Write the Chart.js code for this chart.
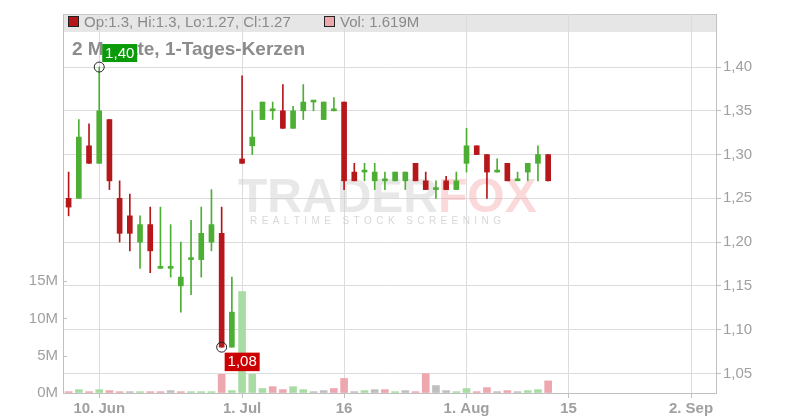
<!DOCTYPE html>
<html>
<head>
<meta charset="utf-8">
<script src="https://cdn.jsdelivr.net/npm/chart.js@4.4.1/dist/chart.umd.min.js"></script>
<style>
html,body{margin:0;padding:0;background:#fff}
canvas{display:block}
</style>
</head>
<body>
<canvas id="chart" width="800" height="420"></canvas>
<script>
// one entry per trading day, 5 Jun .. 13 Aug (x = trading day index)
var opens  = [1.25,1.25,1.31,1.29,1.34,1.25,1.23,1.20,1.22,1.17,1.17,1.15,1.18,1.18,1.20,1.21,1.08,1.295,1.31,1.34,1.35,1.35,1.33,1.35,
              1.36,1.34,1.35,1.36,1.28,1.28,1.27,1.27,1.27,1.27,1.29,1.27,1.26,1.27,1.26,1.29,1.31,1.30,1.28,1.29,1.27,1.28,1.29,1.30];
var highs  = [1.28,1.34,1.335,1.40,1.34,1.27,1.255,1.23,1.24,1.24,1.22,1.20,1.225,1.24,1.26,1.24,1.16,1.39,1.35,1.36,1.36,1.38,1.355,1.38,
              1.36,1.36,1.365,1.36,1.29,1.29,1.29,1.28,1.28,1.28,1.29,1.28,1.27,1.275,1.28,1.33,1.31,1.30,1.295,1.29,1.28,1.29,1.31,1.30];
var lows   = [1.23,1.25,1.29,1.29,1.26,1.20,1.19,1.17,1.165,1.17,1.16,1.12,1.14,1.16,1.19,1.08,1.08,1.29,1.30,1.34,1.34,1.33,1.33,1.34,
              1.35,1.34,1.35,1.26,1.27,1.27,1.26,1.26,1.27,1.26,1.27,1.26,1.25,1.26,1.26,1.28,1.30,1.25,1.28,1.27,1.27,1.27,1.27,1.27];
var closes = [1.24,1.32,1.29,1.35,1.27,1.21,1.21,1.22,1.19,1.17,1.17,1.16,1.18,1.21,1.22,1.08,1.12,1.29,1.32,1.36,1.35,1.33,1.35,1.36,
              1.36,1.36,1.35,1.27,1.27,1.28,1.28,1.27,1.28,1.28,1.27,1.26,1.26,1.26,1.27,1.31,1.30,1.28,1.28,1.27,1.27,1.29,1.30,1.27];
// volume in millions
var volumes = [0.18,0.45,0.18,0.45,0.32,0.18,0.18,0.18,0.18,0.18,0.32,0.18,0.18,0.18,0.18,2.5,0.32,13.6,2.5,0.6,0.85,0.45,0.85,0.45,
               0.18,0.32,0.6,1.95,0.18,0.32,0.45,0.45,0.18,0.32,0.18,2.6,1.0,0.32,0.18,0.6,0.18,0.72,0.18,0.32,0.18,0.32,0.45,1.619];

var xTickIdx    = [3,17,27,39,49,61];
var xTickLabels = ['10. Jun','1. Jul','16','1. Aug','15','2. Sep'];
var priceTicks  = [1.05,1.10,1.15,1.20,1.25,1.30,1.35,1.40];
var volTicks    = [0,5,10,15];

var FONT = "'Liberation Sans', Arial, sans-serif";
var GREEN = '#4caf34', RED = '#b5171b';
var VGREEN = '#a9dca5', VRED = '#eda7ae', VGREY = '#bfbfbf';

var bodyData=[], wickData=[], volData=[], candleCol=[], volCol=[];
for (var i=0;i<opens.length;i++){
  bodyData.push({x:i, y:[opens[i], closes[i]]});
  wickData.push({x:i, y:[lows[i], highs[i]]});
  volData.push({x:i, y:volumes[i]});
  candleCol.push(closes[i] >= opens[i] ? GREEN : RED);
  var prev = i>0 ? closes[i-1] : opens[i];
  volCol.push(closes[i] > prev ? VGREEN : (closes[i] < prev ? VRED : VGREY));
}

var decor = {
  id:'decor',
  beforeDraw: function(chart){
    var c=chart.ctx, a=chart.chartArea;
    c.save();
    c.fillStyle='#e6e6e6';
    c.fillRect(a.left, a.top, a.right-a.left, 18);
    c.strokeStyle='#c8c8c8'; c.lineWidth=1;
    c.beginPath(); c.moveTo(a.left, a.top+0.5); c.lineTo(a.right, a.top+0.5); c.stroke();
    c.restore();
  },
  beforeDatasetsDraw: function(chart){
    var c=chart.ctx;
    c.save();
    // watermark
    c.font='bold 48px '+FONT;
    c.textBaseline='alphabetic';
    c.fillStyle='rgba(205,205,205,0.45)';
    c.fillText('TRADER', 238, 212);
    var w=c.measureText('TRADER').width;
    c.fillStyle='rgba(245,160,165,0.4)';
    c.fillText('FOX', 238+w, 212);
    c.font='10px '+FONT;
    c.fillStyle='rgba(200,200,200,0.7)';
    var sub='REALTIME STOCK SCREENING';
    var sw=c.measureText(sub).width;
    var gap=(250-sw)/(sub.length-1), px=250;
    for (var k=0;k<sub.length;k++){ c.fillText(sub[k], px, 224); px+=c.measureText(sub[k]).width+gap; }
    // title
    c.font='bold 19px '+FONT;
    c.fillStyle='#8c8c8c';
    c.fillText('2 Monate, 1-Tages-Kerzen', 72, 54.5);
    c.restore();
  },
  afterDatasetsDraw: function(chart){
    var c=chart.ctx, xs=chart.scales.x, ys=chart.scales.y;
    var hi=0, lo=0;
    for (var i=1;i<highs.length;i++){ if(highs[i]>highs[hi]) hi=i; if(lows[i]<lows[lo]) lo=i; }
    c.save();
    c.font='15px '+FONT; c.textAlign='center'; c.textBaseline='middle';
    var x=xs.getPixelForValue(hi), y=ys.getPixelForValue(highs[hi]);
    c.fillStyle='#0a9a0a'; c.fillRect(x+3, y-23, 35, 18);
    c.fillStyle='#fff'; c.fillText(highs[hi].toFixed(2).replace('.',','), x+20.5, y-13.5);
    c.strokeStyle='#222'; c.lineWidth=1; c.beginPath(); c.arc(x, y, 5, 0, Math.PI*2); c.stroke();
    x=xs.getPixelForValue(lo); y=ys.getPixelForValue(lows[lo]);
    c.fillStyle='#cc0000'; c.fillRect(x+3, y+5.5, 35, 18.5);
    c.fillStyle='#fff'; c.fillText(lows[lo].toFixed(2).replace('.',','), x+20.5, y+15);
    c.beginPath(); c.arc(x, y, 5, 0, Math.PI*2); c.stroke();
    c.restore();
  },
  afterDraw: function(chart){
    var c=chart.ctx, a=chart.chartArea, vs=chart.scales.yVol, n=closes.length-1;
    c.save();
    // header legend
    c.font='15px '+FONT; c.textBaseline='alphabetic'; c.fillStyle='#8a8a8a';
    c.fillText('Op:'+opens[n]+', Hi:'+highs[n]+', Lo:'+lows[n]+', Cl:'+closes[n], 84, 26.5);
    c.fillText('Vol: '+volumes[n].toFixed(3)+'M', 340, 26.5);
    c.lineWidth=1; c.strokeStyle='#222';
    c.fillStyle=candleCol[n]; c.fillRect(68.5,16.5,10,10); c.strokeRect(68.5,16.5,10,10);
    c.fillStyle=volCol[n]; c.fillRect(324.5,16.5,10,10); c.strokeRect(324.5,16.5,10,10);
    // inward tick marks on the volume axis
    c.strokeStyle='#c0c0c0';
    volTicks.forEach(function(v){
      var y=Math.round(vs.getPixelForValue(v))+0.5;
      c.beginPath(); c.moveTo(a.left, y); c.lineTo(a.left+4, y); c.stroke();
    });
    c.restore();
  }
};

var ctx=document.getElementById('chart').getContext('2d');
var chart=new Chart(ctx,{
  type:'bar',
  data:{
    datasets:[{
      label:'Body', data:bodyData, yAxisID:'y', order:1,
      backgroundColor:candleCol, barThickness:5, minBarLength:2, grouped:false
    },{
      label:'Wick', data:wickData, yAxisID:'y', order:2,
      backgroundColor:candleCol, barThickness:1, grouped:false
    },{
      label:'Volume', data:volData, yAxisID:'yVol', order:3,
      backgroundColor:volCol, barThickness:7, grouped:false
    }]
  },
  options:{
    responsive:false, animation:false,
    layout:{padding:{top:12,left:0,right:0,bottom:0}},
    plugins:{legend:{display:false}, tooltip:{enabled:false}},
    scales:{
      x:{
        type:'linear', min:-0.55, max:63.45, offset:false,
        afterBuildTicks:function(s){ s.ticks=xTickIdx.map(function(v){return {value:v};}); },
        afterFit:function(s){ s.height=27; },
        ticks:{
          autoSkip:false, maxRotation:0, padding:2, color:'#a0a0a0',
          font:{family:FONT, size:15, weight:'bold'},
          callback:function(v){ return xTickLabels[xTickIdx.indexOf(v)]; }
        },
        grid:{color:'#dcdcdc', offset:false, tickLength:5, tickColor:'#c0c0c0'},
        border:{color:'#c0c0c0'}
      },
      y:{
        position:'right', min:1.0276, max:1.4606,
        afterBuildTicks:function(s){ s.ticks=priceTicks.map(function(v){return {value:v};}); },
        afterFit:function(s){ s.width=84; },
        ticks:{
          padding:2, color:'#a0a0a0', font:{family:FONT, size:15},
          callback:function(v){ return v.toFixed(2).replace('.',','); }
        },
        grid:{color:'#dcdcdc', tickLength:5, tickColor:'#c0c0c0'},
        border:{color:'#c0c0c0'}
      },
      yVol:{
        position:'left', min:0, max:50.8,
        afterBuildTicks:function(s){ s.ticks=volTicks.map(function(v){return {value:v};}); },
        afterFit:function(s){ s.width=63; },
        ticks:{
          padding:5, color:'#a0a0a0', font:{family:FONT, size:15},
          callback:function(v){ return v+'M'; }
        },
        grid:{drawOnChartArea:false, drawTicks:false},
        border:{color:'#c0c0c0'}
      }
    }
  },
  plugins:[decor]
});
</script>
</body>
</html>
